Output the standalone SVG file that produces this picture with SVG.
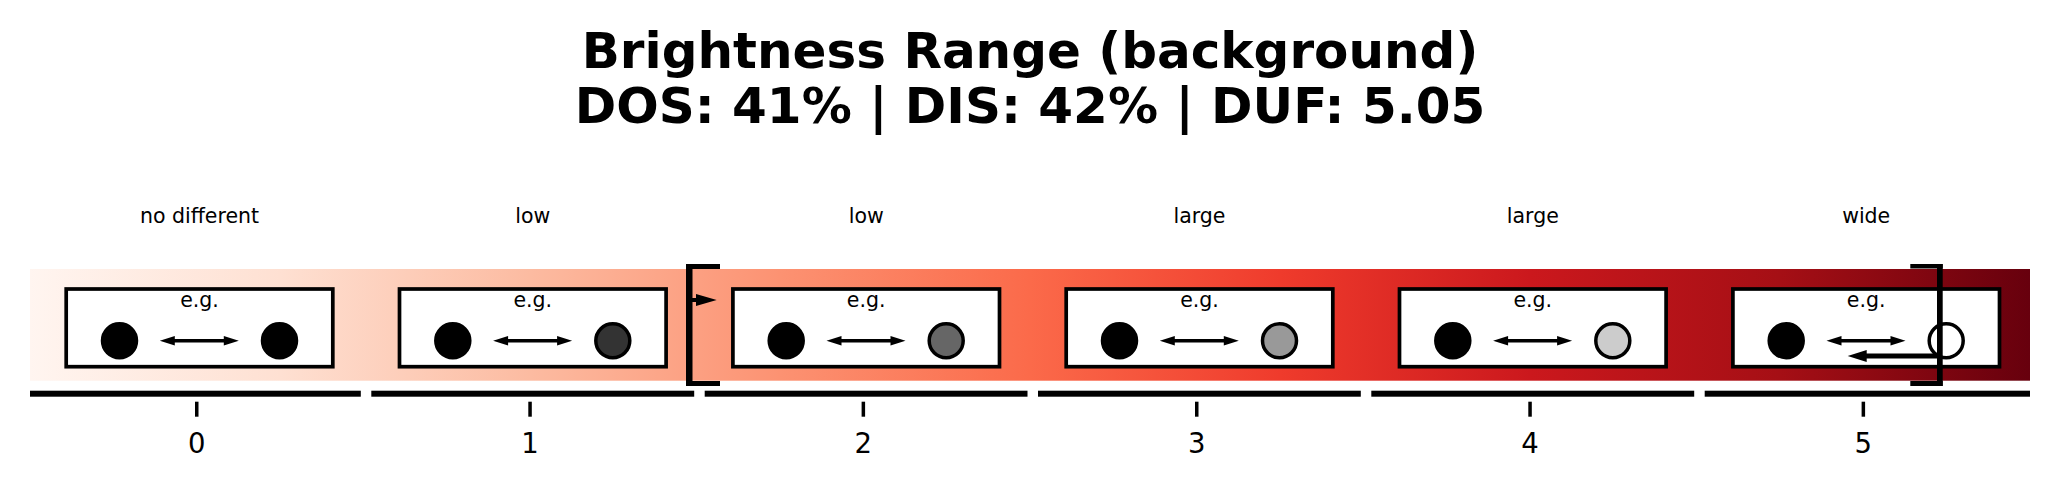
<svg xmlns="http://www.w3.org/2000/svg" width="2060" height="488" viewBox="0 0 2060 488">
<defs>
<linearGradient id="reds" gradientUnits="userSpaceOnUse" x1="30" y1="0" x2="2030" y2="0">
<stop offset="0" stop-color="#fff5f0"/>
<stop offset="0.125" stop-color="#fee0d2"/>
<stop offset="0.25" stop-color="#fcbba1"/>
<stop offset="0.375" stop-color="#fc9272"/>
<stop offset="0.5" stop-color="#fb6a4a"/>
<stop offset="0.625" stop-color="#ef3b2c"/>
<stop offset="0.75" stop-color="#cb181d"/>
<stop offset="0.875" stop-color="#a50f15"/>
<stop offset="1" stop-color="#67000d"/>
</linearGradient>
<path id="dbl" d="M-39.5,0 L-24.5,-4.8 L-24.5,-1.7 L24.5,-1.7 L24.5,-4.8 L39.5,0 L24.5,4.8 L24.5,1.7 L-24.5,1.7 L-24.5,4.8 Z" fill="#000"/>
</defs>
<style>
.title{font-family:"DejaVu Sans","Liberation Sans",sans-serif;font-weight:bold;font-size:50px;fill:#000;text-anchor:middle}
.cat{font-family:"DejaVu Sans","Liberation Sans",sans-serif;font-size:20.5px;fill:#000;text-anchor:middle}
.tick{font-family:"DejaVu Sans","Liberation Sans",sans-serif;font-size:27.5px;fill:#000;text-anchor:middle}
.box{fill:#fff;stroke:#000;stroke-width:3.7}
.dot{stroke:#000;stroke-width:3.5}
.seg{fill:#000}
</style>
<rect width="2060" height="488" fill="#fff"/>
<g id="title">
<text class="title" x="1030" y="68.3">Brightness Range (background)</text>
<text class="title" x="1030" y="123.3">DOS: 41% | DIS: 42% | DUF: 5.05</text>
</g>
<rect id="colorbar" x="30" y="269" width="2000" height="111.7" fill="url(#reds)"/>
<g id="axis">
<rect class="seg" x="30" y="390.7" width="330.8" height="6"/>
<rect class="seg" x="371.3" y="390.7" width="322.9" height="6"/>
<rect class="seg" x="704.7" y="390.7" width="322.8" height="6"/>
<rect class="seg" x="1038" y="390.7" width="322.8" height="6"/>
<rect class="seg" x="1371.3" y="390.7" width="322.9" height="6"/>
<rect class="seg" x="1704.7" y="390.7" width="325.3" height="6"/>
<g fill="#000">
<rect x="195" y="401.7" width="3.5" height="15"/>
<rect x="528.3" y="401.7" width="3.5" height="15"/>
<rect x="861.6" y="401.7" width="3.5" height="15"/>
<rect x="1195" y="401.7" width="3.5" height="15"/>
<rect x="1528.3" y="401.7" width="3.5" height="15"/>
<rect x="1861.6" y="401.7" width="3.5" height="15"/>
</g>
<text class="tick" x="196.7" y="452.7">0</text>
<text class="tick" x="530" y="452.7">1</text>
<text class="tick" x="863.3" y="452.7">2</text>
<text class="tick" x="1196.7" y="452.7">3</text>
<text class="tick" x="1530" y="452.7">4</text>
<text class="tick" x="1863.3" y="452.7">5</text>
</g>
<g id="cell0">
<text class="cat" x="199.5" y="223.3">no different</text>
<rect class="box" x="66.2" y="289" width="266.6" height="77.7"/>
<text class="cat" x="199.5" y="307.3">e.g.</text>
<circle class="dot" cx="119.5" cy="340.7" r="17" fill="#000"/>
<circle class="dot" cx="279.5" cy="340.7" r="17" fill="#000"/>
</g>
<g id="cell1">
<text class="cat" x="532.8" y="223.3">low</text>
<rect class="box" x="399.5" y="289" width="266.6" height="77.7"/>
<text class="cat" x="532.8" y="307.3">e.g.</text>
<circle class="dot" cx="452.8" cy="340.7" r="17" fill="#000"/>
<circle class="dot" cx="612.8" cy="340.7" r="17" fill="#333333"/>
</g>
<g id="cell2">
<text class="cat" x="866.2" y="223.3">low</text>
<rect class="box" x="732.9" y="289" width="266.6" height="77.7"/>
<text class="cat" x="866.2" y="307.3">e.g.</text>
<circle class="dot" cx="786.2" cy="340.7" r="17" fill="#000"/>
<circle class="dot" cx="946.2" cy="340.7" r="17" fill="#666666"/>
</g>
<g id="cell3">
<text class="cat" x="1199.5" y="223.3">large</text>
<rect class="box" x="1066.2" y="289" width="266.6" height="77.7"/>
<text class="cat" x="1199.5" y="307.3">e.g.</text>
<circle class="dot" cx="1119.5" cy="340.7" r="17" fill="#000"/>
<circle class="dot" cx="1279.5" cy="340.7" r="17" fill="#999999"/>
</g>
<g id="cell4">
<text class="cat" x="1532.8" y="223.3">large</text>
<rect class="box" x="1399.5" y="289" width="266.6" height="77.7"/>
<text class="cat" x="1532.8" y="307.3">e.g.</text>
<circle class="dot" cx="1452.8" cy="340.7" r="17" fill="#000"/>
<circle class="dot" cx="1612.8" cy="340.7" r="17" fill="#cccccc"/>
</g>
<g id="cell5">
<text class="cat" x="1866.2" y="223.3">wide</text>
<rect class="box" x="1732.9" y="289" width="266.6" height="77.7"/>
<text class="cat" x="1866.2" y="307.3">e.g.</text>
<circle class="dot" cx="1786.2" cy="340.7" r="17" fill="#000"/>
<circle class="dot" cx="1946.2" cy="340.7" r="17" fill="#fff"/>
</g>
<g id="connectors">
<use href="#dbl" x="199.3" y="340.7"/>
<use href="#dbl" x="532.6" y="340.7"/>
<use href="#dbl" x="866" y="340.7"/>
<use href="#dbl" x="1199.3" y="340.7"/>
<use href="#dbl" x="1532.6" y="340.7"/>
<use href="#dbl" x="1866" y="340.7"/>
<g id="bracket-left" fill="#000">
<rect x="686" y="264" width="6.5" height="122"/>
<rect x="686" y="264" width="34" height="5"/>
<rect x="686" y="381" width="34" height="5"/>
<path d="M692,298 L696,298 L696,294 L716.7,300 L696,306 L696,302 L692,302 Z"/>
</g>
<g id="bracket-right" fill="#000">
<path d="M1847.7,356 L1866.7,350 L1866.7,353.5 L1940,353.5 L1940,358.5 L1866.7,358.5 L1866.7,362 Z"/>
<rect x="1937" y="264" width="5.7" height="122"/>
<rect x="1910.3" y="264" width="32.4" height="4.5"/>
<rect x="1910.3" y="381" width="32.4" height="5"/>
</g>
</g>
</svg>
